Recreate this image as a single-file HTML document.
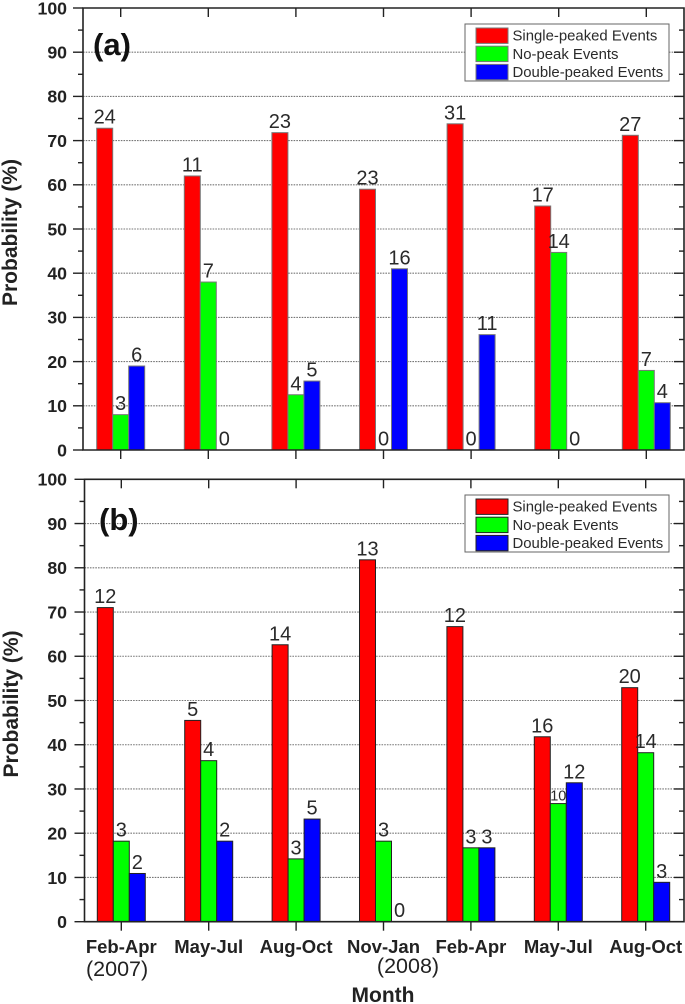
<!DOCTYPE html>
<html>
<head>
<meta charset="utf-8">
<style>
html,body{margin:0;padding:0;background:#fff;width:685px;height:1004px;overflow:hidden}
svg{display:block;filter:blur(0.35px)}
text{font-family:"Liberation Sans",sans-serif}
</style>
</head>
<body>
<svg id="chart" width="685" height="1004" viewBox="0 0 685 1004" xmlns="http://www.w3.org/2000/svg">
  <text x="93" y="55" font-size="31" font-weight="700" fill="#111">(a)</text>
  <text x="99" y="530" font-size="31" font-weight="700" fill="#111">(b)</text>
  <text transform="translate(17 232.5) rotate(-90)" text-anchor="middle" font-size="21" font-weight="700" fill="#222">Probability (%)</text>
  <text transform="translate(18 704) rotate(-90)" text-anchor="middle" font-size="21" font-weight="700" fill="#222">Probability (%)</text>
  <text x="86" y="976" font-size="21.5" fill="#222">(2007)</text>
  <text x="408" y="973" text-anchor="middle" font-size="21.5" fill="#222">(2008)</text>
  <text x="383" y="1002" text-anchor="middle" font-size="21" font-weight="700" fill="#222">Month</text>
</svg>
<script>
var categories = ['Feb-Apr', 'May-Jul', 'Aug-Oct', 'Nov-Jan', 'Feb-Apr', 'May-Jul', 'Aug-Oct'];
var yTickLabels = [0, 10, 20, 30, 40, 50, 60, 70, 80, 90, 100];
var seriesNames = ['Single-peaked Events', 'No-peak Events', 'Double-peaked Events'];
var singleA = [72.8, 62, 71.8, 59, 73.8, 55.2, 71.2];
var noPeakA = [8, 38, 12.5, 0, 0, 44.7, 18];
var doubleA = [19, 0, 15.6, 41, 26.1, 0, 10.7];
var singleCountA = [24, 11, 23, 23, 31, 17, 27];
var noPeakCountA = [3, 7, 4, 0, 0, 14, 7];
var doubleCountA = [6, 0, 5, 16, 11, 0, 4];
var singleB = [71, 45.5, 62.6, 81.8, 66.7, 41.8, 52.9];
var noPeakB = [18.2, 36.4, 14.2, 18.2, 16.7, 26.7, 38.2];
var doubleB = [10.9, 18.2, 23.2, 0, 16.7, 31.4, 8.9];
var singleCountB = [12, 5, 14, 13, 12, 16, 20];
var noPeakCountB = [3, 4, 3, 3, 3, 10, 14];
var doubleCountB = [2, 2, 5, 0, 3, 12, 3];

var NS = 'http://www.w3.org/2000/svg';
var svg = document.getElementById('chart');
var colors = ['#ff0000', '#00ff00', '#0000ff'];

function add(parent, tag, attrs, txt) {
  var el = document.createElementNS(NS, tag);
  for (var k in attrs) el.setAttribute(k, attrs[k]);
  if (txt !== undefined) el.textContent = txt;
  parent.appendChild(el);
  return el;
}

function drawPanel(p) {
  var g = add(svg, 'g', {});
  
  
  svg.insertBefore(g, svg.firstChild);

  function yScale(v) { return p.y0 + (p.y100 - p.y0) * v / 100; }
  function xScale(i) { return p.x0 + p.step * i; }

  // gridlines
  yTickLabels.forEach(function (t) {
    if (t === 0 || t === 100) return;
    var line = add(g, 'line', {x1: p.left, x2: p.right, y1: yScale(t), y2: yScale(t), stroke: '#777', 'stroke-width': 1.1, 'stroke-dasharray': '1.6 1.1'});
    
    
  });

  // bars
  var series = [p.single, p.noPeak, p.double];
  var counts = [p.singleCount, p.noPeakCount, p.doubleCount];
  series.forEach(function (vals, s) {
    vals.forEach(function (v, i) {
      var bx = xScale(i) - 24 + s * 16;
      if (v > 0) {
        var r = add(g, 'rect', {x: bx, y: yScale(v), width: 16, height: yScale(0) - yScale(v), fill: colors[s], stroke: p.barStroke, 'stroke-width': 1});
        
        
      }
      var c = counts[s][i];
      var small = (p.id === 'b' && s === 1 && i === 5);
      var lbl = add(g, 'text', {x: bx + 8, y: yScale(v) - (small ? 3 : 4.5), 'text-anchor': 'middle', 'font-size': small ? 14.5 : 20, fill: '#2a2a2a'}, String(c));
      
      
    });
  });

  // axes frame
  var frame = add(g, 'path', {d: 'M' + p.left + ' ' + p.y100 + 'H' + p.right + 'V' + p.y0 + 'H' + p.left + 'Z', fill: 'none', stroke: '#222', 'stroke-width': 1.6});
  
  

  // y ticks
  for (var m = 0; m <= 100; m += 5) {
    var major = m % 10 === 0;
    var len = major ? 10 : 5;
    var lt = add(g, 'line', {x1: p.left - len, x2: p.left, y1: yScale(m), y2: yScale(m), stroke: '#222', 'stroke-width': 1.4});
    
    
    if (m > 0 && m < 100) {
      var rt = add(g, 'line', {x1: p.right - len, x2: p.right, y1: yScale(m), y2: yScale(m), stroke: '#222', 'stroke-width': 1.4});
      
      
    }
  }
  yTickLabels.forEach(function (t) {
    var tl = add(g, 'text', {x: 67, y: yScale(t) + 6.3, 'text-anchor': 'end', 'font-size': 17.7, 'font-weight': 700, fill: '#222'}, String(t));
    
    
  });

  // x ticks
  categories.forEach(function (c, i) {
    var top = add(g, 'line', {x1: xScale(i), x2: xScale(i), y1: p.y100, y2: p.y100 + 9, stroke: '#222', 'stroke-width': 1.4});
    
    
    var bot = add(g, 'line', {x1: xScale(i), x2: xScale(i), y1: p.y0, y2: p.y0 + 9, stroke: '#222', 'stroke-width': 1.4});
    
    
    if (p.showCategories) {
      var cl = add(g, 'text', {x: xScale(i), y: 953, 'text-anchor': 'middle', 'font-size': 18.5, 'font-weight': 700, fill: '#222'}, c);
      
      
    }
  });

  // legend
  var lg = add(g, 'g', {});
  
  
  var box = add(lg, 'rect', {x: 465, y: p.legendTop, width: 204, height: 57, fill: '#fff', stroke: '#666', 'stroke-width': 1});
  
  
  seriesNames.forEach(function (name, s) {
    var sw = add(lg, 'rect', {x: 476, y: p.legendTop + 4 + s * 18.2, width: 32, height: 15.4, fill: colors[s], stroke: p.barStroke, 'stroke-width': 1});
    
    
    var tx = add(lg, 'text', {x: 512.5, y: p.legendTop + 16.6 + s * 18.2, 'font-size': 14.9, fill: '#2a2a2a'}, name);
    
    
  });
}

drawPanel({id: 'b', y0: 921.7, y100: 479.3, left: 84.5, right: 684, x0: 121.3, step: 87.4, barStroke: '#222',
  single: singleB, noPeak: noPeakB, double: doubleB,
  singleCount: singleCountB, noPeakCount: noPeakCountB, doubleCount: doubleCountB,
  legendTop: 495, showCategories: true});
drawPanel({id: 'a', y0: 450, y100: 8, left: 83, right: 684, x0: 120.7, step: 87.6, barStroke: '#777',
  single: singleA, noPeak: noPeakA, double: doubleA,
  singleCount: singleCountA, noPeakCount: noPeakCountA, doubleCount: doubleCountA,
  legendTop: 24, showCategories: false});
</script>
</body>
</html>
